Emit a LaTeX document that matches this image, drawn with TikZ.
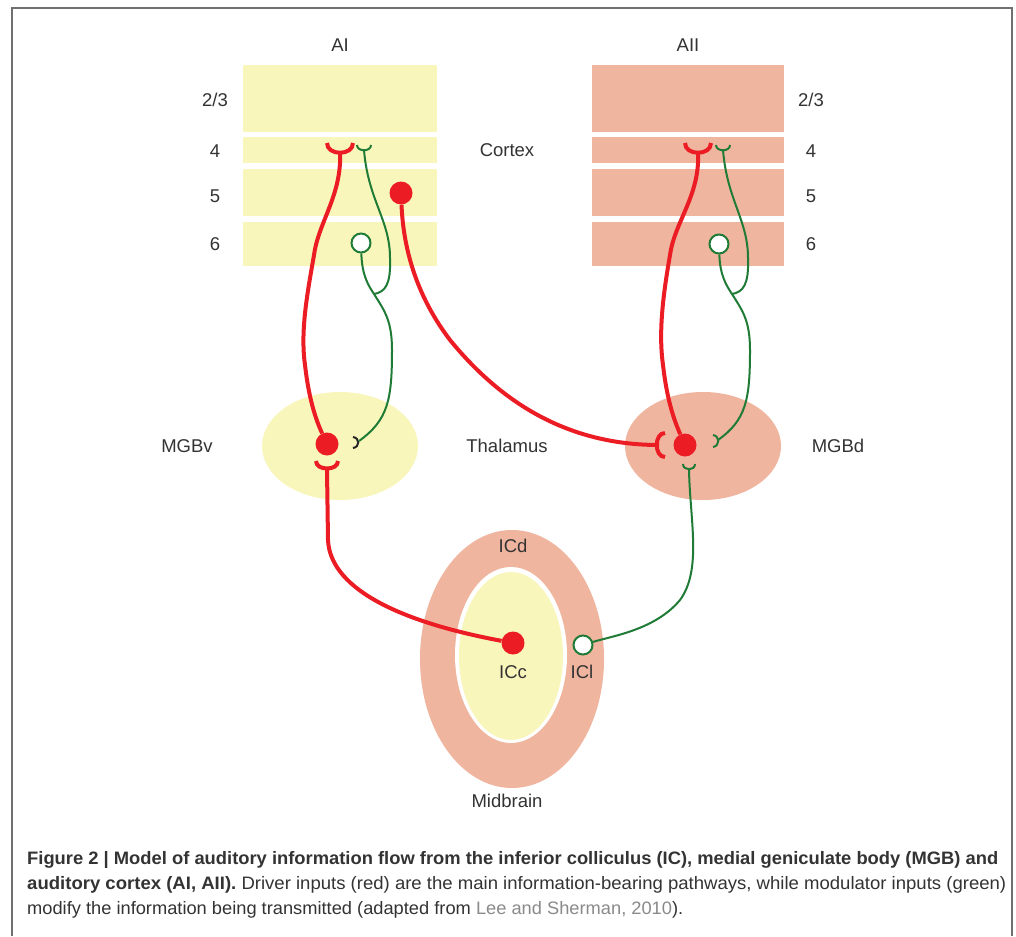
\documentclass[tikz,border=0pt]{standalone}
\usepackage{fontspec}
\setmainfont{Liberation Sans}
\usepackage{graphicx}
\definecolor{ylw}{HTML}{F9F6BC}
\definecolor{slm}{HTML}{F0B59F}
\definecolor{dred}{HTML}{EC1C24}
\definecolor{dgreen}{HTML}{1F7B36}
\definecolor{txt}{HTML}{333333}
\definecolor{capgray}{HTML}{8A8A8A}
\definecolor{framec}{HTML}{707070}
\begin{document}
\begin{tikzpicture}[x=1pt,y=-1pt,
  lab/.style={font=\fontsize{18.5}{22}\selectfont, text=txt, inner sep=0pt},
  captxt/.style={font=\fontsize{18}{20}\selectfont, text=txt, inner sep=0pt, anchor=base west},
  redcell/.style={circle, fill=dred, minimum size=23pt, inner sep=0pt},
  opencell/.style={circle, draw=dgreen, line width=2pt, fill=white, minimum size=19pt, inner sep=0pt},
  driver/.style={draw=dred, line width=4pt},
  modul/.style={draw=dgreen, line width=2pt},
  darkcup/.style={draw=black!85, line width=2pt}]
\useasboundingbox (0,0) rectangle (1016,936);
\fill[white] (0,0) rectangle (1016,936);
\draw[framec, line width=1.3pt] (12,936) -- (12,8) -- (1012,8) -- (1012,936);

% cortex layers AI
\fill[ylw] (243,65) rectangle (437,132);
\fill[ylw] (243,137) rectangle (437,163);
\fill[ylw] (243,169) rectangle (437,216);
\fill[ylw] (243,222) rectangle (437,266);
% cortex layers AII
\fill[slm] (592,65) rectangle (784,132);
\fill[slm] (592,137) rectangle (784,163);
\fill[slm] (592,169) rectangle (784,216);
\fill[slm] (592,222) rectangle (784,266);

% thalamus
\fill[ylw] (340,446) ellipse [x radius=78, y radius=54];
\fill[slm] (703,446) ellipse [x radius=78, y radius=54];
% midbrain
\fill[slm] (512,659) ellipse [x radius=92, y radius=129];
\fill[white] (511,655) ellipse [x radius=56, y radius=88];
\fill[ylw] (511,656) ellipse [x radius=52, y radius=84];

% labels
\node[lab] (lAI) at (340,45) {AI};
\node[lab] (lAII) at (688,45) {AII};
\node[lab] (l23a) at (215,100) {2/3};
\node[lab] (l4a) at (215,151) {4};
\node[lab] (l5a) at (215,196) {5};
\node[lab] (l6a) at (215,244) {6};
\node[lab] (l23b) at (811,100) {2/3};
\node[lab] (l4b) at (811,151) {4};
\node[lab] (l5b) at (811,196) {5};
\node[lab] (l6b) at (811,244) {6};
\node[lab] (lcortex) at (507,150) {Cortex};
\node[lab] (lmgbv) at (187,446) {MGBv};
\node[lab] (lthal) at (507,446) {Thalamus};
\node[lab] (lmgbd) at (838,446) {MGBd};
\node[lab] (licd) at (513,546) {ICd};
\node[lab] (licc) at (513,672) {ICc};
\node[lab] (licl) at (582,672) {ICl};
\node[lab] (lmid) at (507,801) {Midbrain};

% cells
\node[redcell] (ai5) at (401,193) {};
\node[opencell] (ai6) at (361,243) {};
\node[opencell] (aii6) at (719,244) {};
\node[redcell] (mgbvc) at (327,444) {};
\node[redcell] (mgbdc) at (685,445) {};
\node[redcell] (icc) at (513,643) {};
\node[opencell] (icl) at (583,645) {};

% cup stems / terminals / junctions
\coordinate (ai4r) at (340,153);
\coordinate (ai4g) at (364,150);
\coordinate (aii4r) at (698,153);
\coordinate (aii4g) at (723,150);
\coordinate (mgbvg) at (359,441);
\coordinate (mgbvr) at (327,470);
\coordinate (mgbdr) at (659,445);
\coordinate (mgbdg) at (718,440);
\coordinate (mgbdb) at (689,470);
\coordinate (jai) at (374,294);
\coordinate (jaii) at (732,294);

% cups
\draw[driver] (327,143) .. controls (327,156) and (353,156) .. (353,143);
\draw[modul] (357,145) .. controls (357,152) and (371,152) .. (371,145);
\draw[driver] (685,143) .. controls (685,156) and (711,156) .. (711,143);
\draw[modul] (716,145) .. controls (716,152) and (730,152) .. (730,145);
\draw[darkcup] (353,437) .. controls (360,438) and (360,447) .. (353,448);
\draw[driver] (316,461) .. controls (316,471) and (338,471) .. (338,461);
\draw[driver] (665,433) .. controls (654,433) and (654,457) .. (665,457);
\draw[modul] (713,435) .. controls (720,436) and (720,446) .. (713,447);
\draw[modul] (683,464) .. controls (683,471) and (695,471) .. (695,464);

% driver pathways
\draw[driver] (ai4r) -- (340,163) .. controls (338,200) and (318,225) .. (314,255)
  .. controls (308,290) and (300,330) .. (305,365) .. controls (309,400) and (316,420) .. (mgbvc);
\draw[driver] (aii4r) -- (698,163) .. controls (696,200) and (674,225) .. (670,255)
  .. controls (664,290) and (658,330) .. (663,365) .. controls (667,400) and (674,420) .. (mgbdc);
\draw[driver] (ai5) .. controls (403,240) and (412,290) .. (450,340)
  .. controls (495,395) and (560,445) .. (mgbdr);
\draw[driver] (mgbvr) -- (328,540) .. controls (330,585) and (390,620) .. (icc);

% modulator pathways
\draw[modul] (ai6) .. controls (362,275) and (368,285) .. (jai)
  .. controls (384,310) and (392,320) .. (392,350)
  .. controls (392,400) and (388,420) .. (mgbvg);
\draw[modul] (ai4g) .. controls (368,200) and (390,220) .. (390,258)
  .. controls (391,285) and (385,292) .. (jai);
\draw[modul] (aii6) .. controls (720,275) and (726,285) .. (jaii)
  .. controls (742,310) and (750,320) .. (750,350)
  .. controls (750,400) and (746,420) .. (mgbdg);
\draw[modul] (aii4g) .. controls (727,200) and (748,220) .. (748,258)
  .. controls (749,285) and (743,292) .. (jaii);
\draw[modul] (mgbdb) .. controls (690,520) and (702,570) .. (680,600)
  .. controls (655,630) and (612,636) .. (icl);

% caption
\node[captxt] (cap1) at (27,864) {\resizebox{971pt}{\height}{\bfseries Figure 2 | Model of auditory information flow from the inferior colliculus (IC), medial geniculate body (MGB) and}};
\node[captxt] (cap2) at (27,889) {\resizebox{979pt}{\height}{\textbf{auditory cortex (AI, AII).} Driver inputs (red) are the main information-bearing pathways, while modulator inputs (green)}};
\node[captxt] (cap3) at (27,914) {\resizebox{656pt}{\height}{modify the information being transmitted (adapted from \textcolor{capgray}{Lee and Sherman, 2010}).}};
\end{tikzpicture}
\end{document}
